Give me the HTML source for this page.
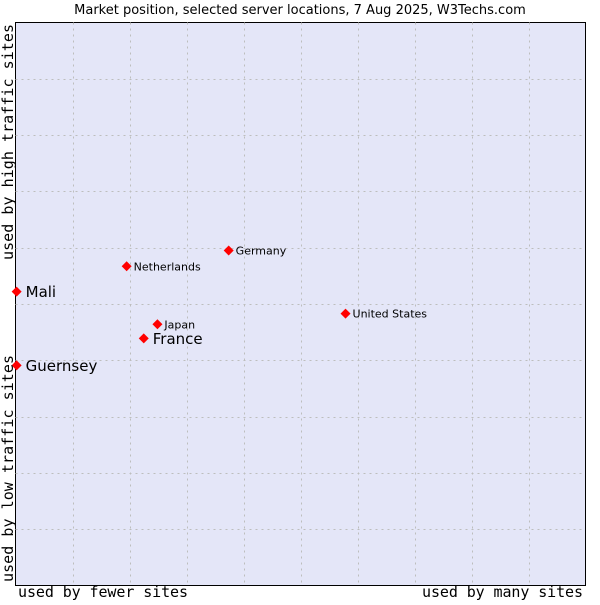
<!DOCTYPE html>
<html><head><meta charset="utf-8"><style>
body{margin:0;background:#fff;width:600px;height:600px;overflow:hidden}
svg text{font-family:"DejaVu Sans","Liberation Sans",sans-serif}
.mono{font-family:"DejaVu Sans Mono","Liberation Mono",monospace}
</style></head><body>
<svg id="chart" width="600" height="600" xmlns="http://www.w3.org/2000/svg">
<text x="300" y="14" text-anchor="middle" font-size="13">Market position, selected server locations, 7 Aug 2025, W3Techs.com</text>
<rect x="15.5" y="22.5" width="570" height="563" fill="#e4e6f8" stroke="#000" stroke-width="1"/>
<g id="grid"></g>
<g id="marks"></g>
<text class="mono" x="18" y="597" font-size="15" textLength="170">used by fewer sites</text>
<text class="mono" x="422" y="597" font-size="15" textLength="161">used by many sites</text>
<text class="mono" transform="translate(13,582) rotate(-90)" font-size="15" textLength="227">used by low traffic sites</text>
<text class="mono" transform="translate(13,260) rotate(-90)" font-size="15" textLength="236">used by high traffic sites</text>
</svg>
<script>
const names = ["Mali","Guernsey","France","Japan","Netherlands","Germany","United States"];
const xs = [0.2,0.2,22.5,24.9,19.5,37.4,57.9];
const ys = [52.2,39.1,43.9,46.4,56.7,59.5,48.3];
const big = [true,true,true,false,false,false,false];
const X0=15.5,X1=585.5,Y0=585.5,Y1=22.5;
const sx=v=>X0+(X1-X0)*v/100, sy=v=>Y0-(Y0-Y1)*v/100;
const NS="http://www.w3.org/2000/svg";
const grid=document.getElementById('grid'), marks=document.getElementById('marks');
for(let i=1;i<10;i++){
  let l=document.createElementNS(NS,'line');
  
  
  l.setAttribute('x1',Math.round(sx(i*10))+0.5);l.setAttribute('x2',Math.round(sx(i*10))+0.5);
  l.setAttribute('y1',Y1);l.setAttribute('y2',Y0);
  l.setAttribute('stroke','#bdbdbd');l.setAttribute('stroke-dasharray','2,4');
  grid.appendChild(l);
  let h=document.createElementNS(NS,'line');
  
  
  h.setAttribute('y1',Math.round(sy(i*10))+0.5);h.setAttribute('y2',Math.round(sy(i*10))+0.5);
  h.setAttribute('x1',X0);h.setAttribute('x2',X1);
  h.setAttribute('stroke','#bdbdbd');h.setAttribute('stroke-dasharray','2,4');
  grid.appendChild(h);
}
names.forEach((n,i)=>{
  const x=sx(xs[i]), y=sy(ys[i]);
  const p=document.createElementNS(NS,'polygon');
  
  
  p.setAttribute('points',`${x},${y-5} ${x+5},${y} ${x},${y+5} ${x-5},${y}`);
  p.setAttribute('fill','#f00');
  marks.appendChild(p);
  const t=document.createElementNS(NS,'text');
  
  
  t.setAttribute('x',x+(big[i]?9:7));t.setAttribute('y',y+(big[i]?5.5:4));
  t.setAttribute('font-size',big[i]?'15':'11');
  t.textContent=n;
  marks.appendChild(t);
});
</script>
</body></html>
